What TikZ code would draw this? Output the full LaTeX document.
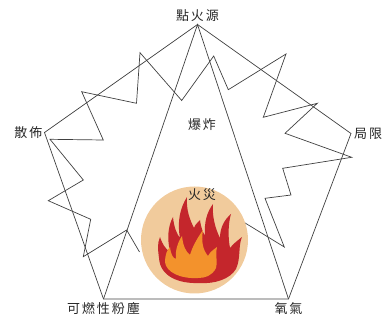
\documentclass[tikz,border=0pt]{standalone}
\usepackage{fontspec}
\newfontfamily\cjkfont[LetterSpace=15]{Noto Sans CJK TC}
\usepackage{xcolor}
\usetikzlibrary{positioning, calc}
\definecolor{discfill}{RGB}{241,203,156}
\definecolor{flamered}{RGB}{196,38,44}
\definecolor{flameorange}{RGB}{243,146,44}
\tikzset{
  lbl/.style  = {font=\cjkfont\fontsize{13}{15}\selectfont, inner sep=1pt, text=black!85},
  edge/.style = {line width=0.7pt, draw=black!75, line join=miter},
  bolt/.style = {line width=0.7pt, draw=black!75, line join=miter}
}

\begin{document}
\begin{tikzpicture}[x=1pt, y=-1pt]
  \useasboundingbox (0,0) rectangle (386,323);

  % corners of the pentagon
  \coordinate (ign)  at (197.5,24.5);
  \coordinate (disp) at (44.5,132.5);
  \coordinate (conf) at (351,133.5);
  \coordinate (dust) at (103.5,299);
  \coordinate (oxy)  at (288.5,299);

  \node[lbl] (ignlbl)  [above=2pt of ign]  {點火源};
  \node[lbl] (displbl) [left=1pt of disp]  {散佈};
  \node[lbl] (conflbl) [right=2pt of conf] {局限};
  \node[lbl] (dustlbl) [below=2pt of dust] {可燃性粉塵};
  \node[lbl] (oxylbl)  [below=2pt of oxy]  {氧氣};
  \node[lbl] (expl) at (202,125) {爆炸};

  % explosion outline
  \draw[bolt] (139.5,252) -- (126.7,230) -- (83.3,256.7) -- (90.7,219.3)
    -- (48.3,200.7) -- (83.3,180) -- (50,139.3) -- (103.3,140)
    -- (81.7,91.7) -- (136.5,103.3) -- (140,52.7) -- (181.7,100.5)
    -- (213.7,56) -- (228.3,89.7) -- (286,54) -- (263.3,117.3)
    -- (317.3,103.3) -- (285,133.3) -- (351.7,157.3) -- (282.7,168.3)
    -- (291,195) -- (265,198.3) -- (284.3,247) -- (243,221.7);

  \draw[edge] (ign) -- (disp) -- (dust) -- (oxy) -- (conf) -- cycle;
  \draw[edge] (dust) -- (ign) -- (oxy);

  % fire disc
  \node[circle, fill=discfill, minimum size=107pt, inner sep=0pt] (disc) at (194.5,240) {};
  \fill[flamered] (200,283)
    .. controls (178,284) and (160,276) .. (159,258)
    .. controls (158,250) and (157,244) .. (160,237)
    .. controls (163,246) and (167,250) .. (170,252)
    .. controls (167,238) and (168,226) .. (173,217)
    .. controls (174,228) and (177,234) .. (180,238)
    .. controls (177,222) and (180,208) .. (187,197)
    .. controls (186,210) and (190,220) .. (194,228)
    .. controls (195,224) and (198,223) .. (200,220)
    .. controls (201,228) and (203,232) .. (205,236)
    .. controls (204,222) and (207,212) .. (213,204)
    .. controls (212,216) and (215,228) .. (220,238)
    .. controls (220,228) and (224,220) .. (231,214)
    .. controls (228,224) and (228,238) .. (230,248)
    .. controls (233,244) and (237,241) .. (242,237)
    .. controls (238,246) and (241,258) .. (236,269)
    .. controls (230,279) and (215,284) .. (200,283) -- cycle;
  \fill[flameorange] (198,278)
    .. controls (180,279) and (166,272) .. (165,262)
    .. controls (165,255) and (167,250) .. (170,247)
    .. controls (171,255) and (173,258) .. (176,259)
    .. controls (175,250) and (178,242) .. (182,236)
    .. controls (183,246) and (186,252) .. (190,255)
    .. controls (192,248) and (196,240) .. (203,230)
    .. controls (201,242) and (203,250) .. (208,256)
    .. controls (210,252) and (213,250) .. (217,247)
    .. controls (215,256) and (218,262) .. (216,268)
    .. controls (212,276) and (205,278) .. (198,278) -- cycle;
  \node[lbl] (fire) at (202,195) {火災};
\end{tikzpicture}
\end{document}
